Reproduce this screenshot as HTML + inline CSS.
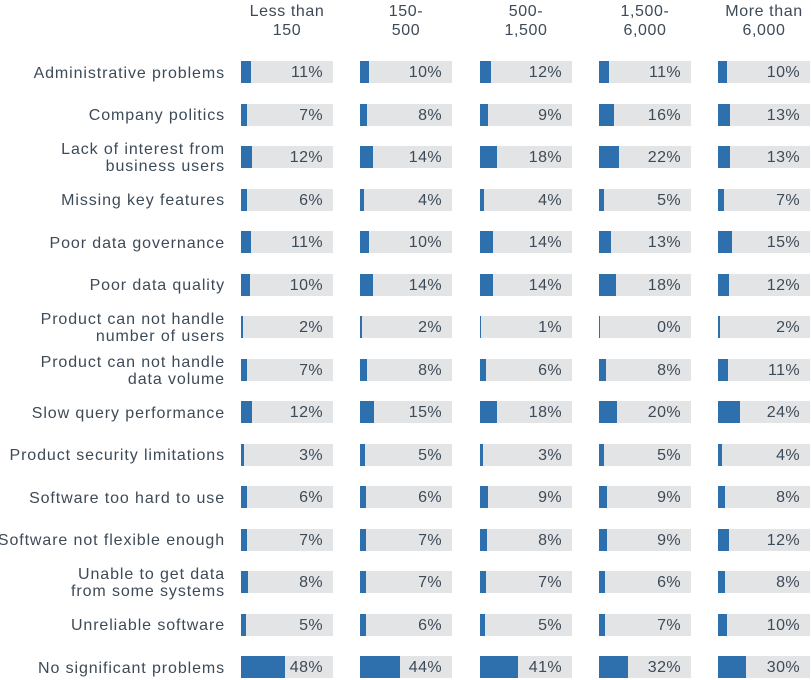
<!DOCTYPE html>
<html><head><style>
body{margin:0;width:811px;height:680px;background:#fff;font-family:"Liberation Sans",sans-serif;color:#3d4a57;position:relative;overflow:hidden}
.h{position:absolute;top:2px;width:120px;text-align:center;font-size:16px;line-height:19px;letter-spacing:0.6px}
.l{position:absolute;right:586px;text-align:right;font-size:16px;line-height:17px;white-space:nowrap;letter-spacing:0.9px}
.g{position:absolute;width:92px;height:22px;background:#e3e4e6}
.b{position:absolute;left:0;top:0;height:22px;background:#2e6fae}
.t{position:absolute;right:10px;top:1px;line-height:22px;font-size:16px;letter-spacing:0.4px}
</style></head><body>
<div id="c"></div>
<script>
const cols=[241,360,480,599,718];
const heads=["Less than<br>150","150-<br>500","500-<br>1,500","1,500-<br>6,000","More than<br>6,000"];
const rows=[["Administrative problems",[11,10,12,11,10]],["Company politics",[7,8,9,16,13]],["Lack of interest from<br>business users",[12,14,18,22,13]],["Missing key features",[6,4,4,5,7]],["Poor data governance",[11,10,14,13,15]],["Poor data quality",[10,14,14,18,12]],["Product can not handle<br>number of users",[2,2,1,0,2]],["Product can not handle<br>data volume",[7,8,6,8,11]],["Slow query performance",[12,15,18,20,24]],["Product security limitations",[3,5,3,5,4]],["Software too hard to use",[6,6,9,9,8]],["Software not flexible enough",[7,7,8,9,12]],["Unable to get data<br>from some systems",[8,7,7,6,8]],["Unreliable software",[5,6,5,7,10]],["No significant problems",[48,44,41,32,30]]];
let h="";
cols.forEach((x,i)=>{h+=`<div class="h" style="left:${x+46-60}px">${heads[i]}</div>`});
rows.forEach((r,j)=>{const cy=72+j*42.5;const two=r[0].includes("<br>");
h+=`<div class="l" style="top:${cy-(two?16:7.5)}px">${r[0]}</div>`;
r[1].forEach((v,i)=>{h+=`<div class="g" style="left:${cols[i]}px;top:${cy-11}px"><div class="b" style="width:${Math.max(v*0.92,1)}px"></div><div class="t">${v}%</div></div>`});});
document.getElementById("c").innerHTML=h;
</script>
</body></html>
